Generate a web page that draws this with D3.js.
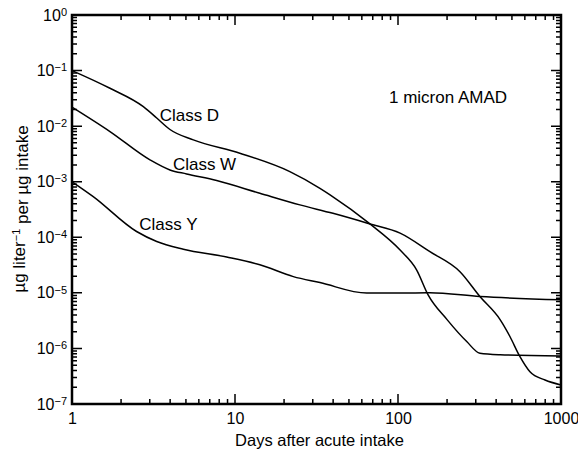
<!DOCTYPE html>
<html lang="en">
<head>
<meta charset="UTF-8">
<title>Plasma concentration after acute intake</title>
<script src="https://d3js.org/d3.v7.min.js"></script>
<style>
  body { margin: 0; background: #fff; }
  text { font-family: "Liberation Sans", Arial, Helvetica, sans-serif; fill: #000; }
</style>
</head>
<body>
<svg id="chart" width="578" height="458"></svg>
<script>
// values (days after intake, ug/l per ug intake)
const classD_days = [1, 1.71, 2.74, 3.31, 3.99, 5.55, 10.7, 21.7, 33.2, 38.3, 67.3, 103, 130, 153, 200, 264, 318, 423, 1000];
const classD_vals = [1.0e-1, 4.8e-2, 2.24e-2, 1.4e-2, 8.7e-3, 5.65e-3, 3.26e-3, 1.52e-3, 7.6e-4, 5.8e-4, 1.74e-4, 5.9e-5, 2.6e-5, 9.2e-6, 3.3e-6, 1.33e-6, 8.2e-7, 7.7e-7, 7.3e-7];

const classW_days = [1, 1.71, 3.01, 3.99, 5.05, 7.72, 14.2, 25.0, 39.9, 67.3, 103, 157, 240, 318, 423, 486, 560, 645, 798, 1000];
const classW_vals = [2.2e-2, 8.0e-3, 2.47e-3, 1.63e-3, 1.38e-3, 1.05e-3, 6.2e-4, 3.83e-4, 2.7e-4, 1.74e-4, 1.19e-4, 5.5e-5, 2.4e-5, 8.6e-6, 3.3e-6, 1.64e-6, 7.1e-7, 3.8e-7, 2.7e-7, 2.2e-7];

const classY_days = [1, 1.35, 2.49, 3.31, 4.82, 8.89, 14.2, 22.8, 33.2, 64.3, 103, 157, 318, 1000];
const classY_vals = [1.0e-3, 5.4e-4, 1.27e-4, 8.4e-5, 6.1e-5, 4.4e-5, 3.2e-5, 1.96e-5, 1.53e-5, 9.9e-6, 9.9e-6, 1.0e-5, 8.6e-6, 7.5e-6];

const seriesNames = ["Class D", "Class W", "Class Y"];
const xTickValues = [1, 10, 100, 1000];
const yExponents = [0, -1, -2, -3, -4, -5, -6, -7];
const annotation = "1 micron AMAD";

const svg = d3.select("#chart");
const margin = { top: 15, right: 17, bottom: 54, left: 72 };
const W = +svg.attr("width"), H = +svg.attr("height");

const x = d3.scaleLog().domain([1, 1000]).range([margin.left, W - margin.right]);
const y = d3.scaleLog().domain([1e-7, 1]).range([H - margin.bottom, margin.top]);

// minor ticks 2..9 per decade
const xMinor = [];
[1, 10, 100].forEach(b => { for (let k = 2; k <= 9; k++) xMinor.push(b * k); });
const yMinor = [];
yExponents.slice(1).forEach(e => { for (let k = 2; k <= 9; k++) yMinor.push(k * Math.pow(10, e)); });
const yMajor = yExponents.map(e => Math.pow(10, e));

const x0 = x.range()[0], x1 = x.range()[1];
const y0 = y.range()[0], y1 = y.range()[1];

// tick marks pointing into the plot, drawn as paths
const xTicks = xMinor.map(v => [v, 5]).concat(xTickValues.slice(1, 3).map(v => [v, 10]));
const yTicks = yMinor.map(v => [v, 5]).concat(yMajor.slice(1, 7).map(v => [v, 10]));

const tickPath = []
  .concat(xTicks.map(d => `M${x(d[0])},${y0}V${y0 - d[1]}`))
  .concat(xTicks.map(d => `M${x(d[0])},${y1}V${y1 + d[1]}`))
  .concat(yTicks.map(d => `M${x0},${y(d[0])}H${x0 + d[1]}`))
  .concat(yTicks.map(d => `M${x1},${y(d[0])}H${x1 - d[1]}`))
  .join("");

svg.append("path")
  .attr("d", tickPath)
  .attr("fill", "none")
  .attr("stroke", "#000")
  .attr("stroke-width", 1.5);

// frame
svg.append("path")
  .attr("d", `M${x0},${y1}H${x1}V${y0}H${x0}Z`)
  .attr("fill", "none")
  .attr("stroke", "#000")
  .attr("stroke-width", 2.5);

// tick labels from axes
const xAxis = svg.append("g")
  .attr("transform", `translate(0,${y0})`)
  .call(d3.axisBottom(x).tickValues(xTickValues).tickSize(0).tickPadding(9)
        .tickFormat((d, i) => String(xTickValues[i])));
xAxis.select(".domain").remove();
xAxis.selectAll("text").attr("font-size", 16);

const yAxis = svg.append("g")
  .attr("transform", `translate(${x0},0)`)
  .call(d3.axisLeft(y).tickValues(yMajor).tickSize(0).tickPadding(5).tickFormat(() => "10"));
yAxis.select(".domain").remove();
yAxis.selectAll(".tick text")
  .attr("font-size", 16)
  .append("tspan")
  .attr("dy", "-0.45em")
  .attr("font-size", 11)
  .text((d, i) => yExponents[i] === 0 ? "0" : "\u2212" + Math.abs(yExponents[i]));

// curves
const line = d3.line()
  .x(d => x(d[0]))
  .y(d => y(d[1]))
  .curve(d3.curveMonotoneX);

const series = [
  d3.zip(classD_days, classD_vals),
  d3.zip(classW_days, classW_vals),
  d3.zip(classY_days, classY_vals)
];

svg.append("g").selectAll("path")
  .data(series)
  .join("path")
  .attr("fill", "none")
  .attr("stroke", "#000")
  .attr("stroke-width", 1.5)
  .attr("d", line);

// curve labels, anchored to a point on each curve
const labelAnchors = [[3.4, 0.0118], [4.1, 0.00155], [2.55, 0.000128]];
svg.append("g").selectAll("text")
  .data(seriesNames)
  .join("text")
  .attr("x", (d, i) => x(labelAnchors[i][0]) + 1)
  .attr("y", (d, i) => y(labelAnchors[i][1]) - 1)
  .attr("font-size", 17)
  .text(d => d);

svg.append("text")
  .attr("x", 389)
  .attr("y", 103)
  .attr("font-size", 17)
  .text(annotation);

// axis titles
svg.append("text")
  .attr("x", (x0 + x1) / 2 + 3)
  .attr("y", 446)
  .attr("text-anchor", "middle")
  .attr("font-size", 16.5)
  .text("Days after acute intake");

const yTitle = svg.append("text")
  .attr("transform", "translate(25,209) rotate(-90)")
  .attr("text-anchor", "middle")
  .attr("font-size", 17);
yTitle.append("tspan").text("\u00b5g liter");
yTitle.append("tspan").attr("dy", "-0.45em").attr("font-size", 11).text("\u22121");
yTitle.append("tspan").attr("dy", "0.45em").text(" per \u00b5g intake");
</script>
</body>
</html>
